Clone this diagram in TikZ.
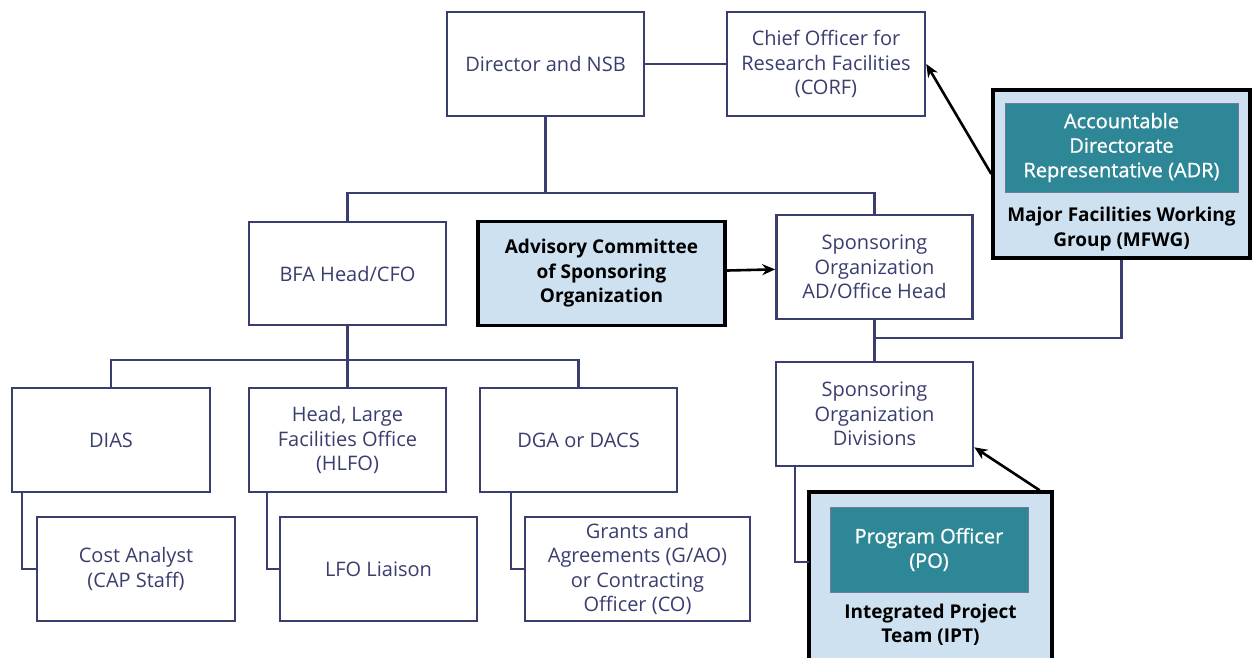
\documentclass[tikz,border=0pt]{standalone}
\usepackage{fontspec}
\setmainfont{Open Sans}
\newfontfamily\medfont[FakeBold=1]{Open Sans}
\usetikzlibrary{arrows.meta}
\definecolor{navy}{RGB}{58,62,110}
\definecolor{paleblue}{RGB}{205,225,240}
\definecolor{tealbox}{RGB}{46,135,150}

\begin{document}
\begin{tikzpicture}[x=1pt,y=-1pt,
    box/.style={draw=navy,line width=2.6pt,fill=white,text=navy,align=center,
      inner sep=0pt,minimum width=197pt,minimum height=104pt,
      font=\fontsize{20}{24.5}\selectfont},
    keybox/.style={box,draw=black,line width=3.4pt,fill=paleblue,text=black},
    innerbox/.style={box,draw=navy!70,line width=1pt,fill=tealbox,text=white,
      font=\fontsize{20}{24.5}\medfont},
    conn/.style={draw=navy,line width=2.2pt},
    arr/.style={-{Stealth[black,length=13pt,width=11pt]},line width=2.6pt,black}]
    \useasboundingbox (0,0) rectangle (1254,657);

            \node[box] (A) at (545.5,64) {Director and NSB};
            \node[box,minimum width=198pt] (B) at (826,64) {Chief Officer for\\Research Facilities\\(CORF)};
            \node[box,minimum height=103pt] (C) at (347.5,273.5) {BFA Head/CFO};
            \node[keybox,minimum width=247pt,font=\fontsize{19}{24.5}\selectfont\bfseries] (D) at (601.5,273.5) {Advisory Committee\\of Sponsoring\\Organization};
            \node[box,minimum width=196pt] (E) at (874.5,267) {Sponsoring\\Organization\\AD/Office Head};
            \node[box] (F) at (874.5,414) {Sponsoring\\Organization\\Divisions};

            \node[box,minimum width=198pt] (G) at (111,440) {DIAS};
            \node[box] (H) at (347.5,440) {Head, Large\\Facilities Office\\(HLFO)};
            \node[box] (I) at (578.5,440) {DGA or DACS};
            \node[box,minimum width=198pt] (J) at (136,569) {Cost Analyst\\(CAP Staff)};
            \node[box] (K) at (378.5,569) {LFO Liaison};
            \node[box,minimum width=225pt] (L) at (637.5,569) {Grants and\\Agreements (G/AO)\\or Contracting\\Officer (CO)};

            \node[keybox,minimum width=257pt,minimum height=168pt] (M) at (1121.5,174) {};
            \node[innerbox,minimum width=233pt,minimum height=89pt] (N) at (1121.5,147.5) {Accountable\\Directorate\\Representative (ADR)};
            \node[align=center,font=\fontsize{19}{24.5}\selectfont\bfseries] (O) at (1121.5,229) {Major Facilities Working\\Group (MFWG)};

            \node[keybox,minimum width=243pt,minimum height=178pt] (P) at (930.5,581) {};
            \node[innerbox,minimum width=198pt,minimum height=85pt] (Q) at (929,549.5) {Program Officer\\(PO)};
            \node[align=center,font=\fontsize{19}{24.5}\selectfont\bfseries] (R) at (930.5,625) {Integrated Project\\Team (IPT)};

            \coordinate (a1) at (545.5,193);
            \coordinate (c1) at (347.5,360);
            \coordinate (e1) at (874.5,338);
            \coordinate (p1) at (809,562);

            \draw[conn] (A) -- (B);
            \draw[conn] (A) -- (a1) -| (C.north);
            \draw[conn] (a1) -| (E.north);
            \draw[conn] (E) -- (F);
            \draw[conn] (M.south) |- (e1);
            \draw[conn] (C) -- (c1) -| (G.north);
            \draw[conn] (c1) -| (H.north);
            \draw[conn] (c1) -| (I.north);
            \draw[conn] ([xshift=11pt]G.south west) |- (J.west);
            \draw[conn] ([xshift=19pt]H.south west) |- (K.west);
            \draw[conn] ([xshift=32pt]I.south west) |- (L.west);
            \draw[conn] ([xshift=20pt]F.south west) |- (p1);

            \draw[arr] (D) -- (E);
            \draw[arr] (M.west) -- (B.east);
            \draw[arr] ([xshift=-14pt]P.north east) -- ([yshift=20pt]F.south east);
        \end{tikzpicture}
\end{document}
